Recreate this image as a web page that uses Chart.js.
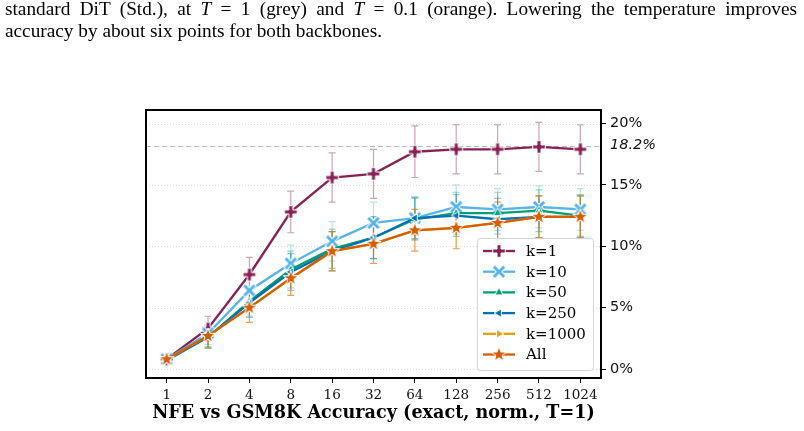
<!DOCTYPE html>
<html lang="en">
<head>
<meta charset="UTF-8" />
<title>NFE vs GSM8K Accuracy</title>
<script src="https://cdn.jsdelivr.net/npm/chart.js"></script>
<style>
  body { margin: 0; background: #fff; }
  #wrap { position: relative; width: 804px; height: 431px; overflow: hidden; }
  .cap { position: absolute; left: 5px; width: 792px; font-family: "Liberation Serif", serif;
         font-size: 19.3px; line-height: 22px; color: #000; white-space: nowrap; }
  #cap1 { top: -2px; text-align: justify; text-align-last: justify; white-space: normal; }
  #cap2 { top: 20px; }
  #grafico { position: absolute; left: 0; top: 0; }
</style>
</head>
<body>
<div id="wrap">
  <canvas id="grafico" width="804" height="431"></canvas>
  <div class="cap" id="cap1">standard DiT (Std.), at <i>T</i> = 1 (grey) and <i>T</i> = 0.1 (orange). Lowering the temperature improves</div>
  <div class="cap" id="cap2">accuracy by about six points for both backbones.</div>
</div>

<script>
    // dados (acurácia em %)
    const nfe = ['1', '2', '4', '8', '16', '32', '64', '128', '256', '512', '1024'];
    const nomes = ['k=1', 'k=10', 'k=50', 'k=250', 'k=1000', 'All'];

    const k1    = [0.8, 3.3, 7.7, 12.8, 15.6, 15.9, 17.7, 17.9, 17.9, 18.1, 17.9];
    const k10   = [0.8, 2.9, 6.4, 8.6, 10.4, 11.9, 12.3, 13.2, 13.0, 13.2, 13.0];
    const k50   = [0.8, 2.6, 5.5, 8.1, 9.8, 10.7, 12.2, 12.7, 12.7, 12.9, 12.5];
    const k250  = [0.7, 2.6, 5.4, 7.9, 9.6, 10.7, 12.3, 12.5, 12.2, 12.4, 12.4];
    const k1000 = [0.8, 2.7, 5.0, 7.4, 9.6, 10.2, 11.3, 11.5, 11.9, 12.4, 12.4];
    const all   = [0.8, 2.7, 5.0, 7.4, 9.6, 10.2, 11.3, 11.5, 11.9, 12.4, 12.4];

    // barras de erro (± em pontos percentuais)
    const errK1    = [0.3, 1.0, 1.4, 1.7, 2.0, 2.0, 2.1, 2.0, 2.0, 2.0, 2.0];
    const errK10   = [0.3, 0.9, 1.2, 1.5, 1.6, 1.7, 1.7, 1.8, 1.7, 1.7, 1.7];
    const errK50   = [0.3, 0.9, 1.2, 1.5, 1.6, 1.7, 1.7, 1.7, 1.7, 1.7, 1.7];
    const errK250  = [0.3, 0.9, 1.2, 1.5, 1.6, 1.7, 1.7, 1.7, 1.7, 1.7, 1.7];
    const errK1000 = [0.3, 0.9, 1.2, 1.4, 1.6, 1.6, 1.7, 1.7, 1.7, 1.7, 1.7];
    const errAll   = [0.3, 0.9, 1.2, 1.4, 1.6, 1.6, 1.7, 1.7, 1.7, 1.7, 1.7];

    const yTicks = [0, 5, 10, 15, 20];
    const refLine = 18.2;

    const cores = ['#882255', '#56B4E9', '#009E73', '#0072B2', '#E69F00', '#D55E00'];
    const tipos = ['plus', 'x', 'up', 'left', 'right', 'star'];
    const series = [k1, k10, k50, k250, k1000, all];
    const erros = [errK1, errK10, errK50, errK250, errK1000, errAll];

    function rgba(hex, a) {
        const n = parseInt(hex.slice(1), 16);
        return `rgba(${n >> 16},${(n >> 8) & 255},${n & 255},${a})`;
    }

    // marcadores estilo matplotlib (preenchidos, borda branca)
    function marcador(tipo, cor) {
        const c = document.createElement('canvas');
        c.width = 20; c.height = 20;
        const g = c.getContext('2d');
        g.translate(10, 10);
        let pts = [];
        if (tipo === 'plus' || tipo === 'x') {
            const r = tipo === 'plus' ? 6.3 : 7.8, w = 2.0;
            pts = [[-w,-r],[w,-r],[w,-w],[r,-w],[r,w],[w,w],[w,r],[-w,r],[-w,w],[-r,w],[-r,-w],[-w,-w]];
            if (tipo === 'x') g.rotate(Math.PI / 4);
        } else if (tipo === 'star') {
            for (let i = 0; i < 10; i++) {
                const r = i % 2 === 0 ? 8 : 3.2;
                const a = -Math.PI / 2 + i * Math.PI / 5;
                pts.push([r * Math.cos(a), r * Math.sin(a)]);
            }
        } else {
            const r = 4.8;
            pts = [[0, -r], [r * 0.866, r * 0.5], [-r * 0.866, r * 0.5]];
            if (tipo === 'left') g.rotate(-Math.PI / 2);
            if (tipo === 'right') g.rotate(Math.PI / 2);
        }
        g.beginPath();
        pts.forEach((p, i) => i ? g.lineTo(p[0], p[1]) : g.moveTo(p[0], p[1]));
        g.closePath();
        g.fillStyle = cor;
        g.fill();
        g.strokeStyle = '#fff';
        g.lineWidth = 1;
        g.stroke();
        return c;
    }

    const datasets = nomes.map((nome, i) => ({
        label: nome,
        data: series[i],
        erro: erros[i],
        borderColor: cores[i],
        backgroundColor: cores[i],
        borderWidth: 2.3,
        pointStyle: marcador(tipos[i], cores[i]),
        pointRadius: 5,
        tension: 0,
        fill: false,
        order: nomes.length - 1 - i
    }));

    const fundo = {
        id: 'fundo',
        beforeDatasetsDraw(chart) {
            const { ctx, chartArea: a, scales: { x, y } } = chart;
            ctx.save();
            ctx.lineWidth = 0.8;
            ctx.strokeStyle = '#cfcfcf';
            ctx.setLineDash([1, 2]);
            yTicks.forEach(v => {
                const py = Math.round(y.getPixelForValue(v)) + 0.5;
                ctx.beginPath(); ctx.moveTo(a.left, py); ctx.lineTo(a.right, py); ctx.stroke();
            });
            ctx.strokeStyle = '#b8b8b8';
            ctx.lineWidth = 1;
            ctx.setLineDash([5, 3]);
            const pr = Math.round(y.getPixelForValue(refLine)) + 0.5;
            ctx.beginPath(); ctx.moveTo(a.left, pr); ctx.lineTo(a.right, pr); ctx.stroke();
            ctx.setLineDash([]);

            // barras de erro
            chart.data.datasets.forEach((ds, i) => {
                ctx.strokeStyle = rgba(ds.borderColor, 0.42);
                ctx.lineWidth = 1.2;
                ds.data.forEach((v, j) => {
                    const px = x.getPixelForValue(j);
                    const y1 = y.getPixelForValue(v - ds.erro[j]);
                    const y2 = y.getPixelForValue(v + ds.erro[j]);
                    ctx.beginPath();
                    ctx.moveTo(px, y1); ctx.lineTo(px, y2);
                    ctx.moveTo(px - 3.5, y1); ctx.lineTo(px + 3.5, y1);
                    ctx.moveTo(px - 3.5, y2); ctx.lineTo(px + 3.5, y2);
                    ctx.stroke();
                });
            });
            ctx.restore();
        },
        afterDatasetsDraw(chart) {
            const { ctx, chartArea: a } = chart;
            ctx.save();
            ctx.strokeStyle = '#000';
            ctx.lineWidth = 2;
            ctx.strokeRect(a.left, a.top, a.right - a.left, a.bottom - a.top);
            ctx.restore();
        },
        afterDraw(chart) {
            // legenda dentro do gráfico, canto inferior direito
            const { ctx } = chart;
            const bx = 477, by = 238, bw = 116, bh = 132, row = 20.7;
            ctx.save();
            ctx.fillStyle = 'rgba(255,255,255,0.85)';
            ctx.strokeStyle = '#d6d6d6';
            ctx.lineWidth = 1;
            ctx.beginPath();
            ctx.roundRect(bx + 0.5, by + 0.5, bw, bh, 3);
            ctx.fill(); ctx.stroke();
            ctx.font = '15px "DejaVu Serif"';
            ctx.textBaseline = 'middle';
            chart.data.datasets.forEach((ds, i) => {
                const cy = by + 13 + i * row;
                ctx.strokeStyle = ds.borderColor;
                ctx.lineWidth = 2.3;
                ctx.beginPath(); ctx.moveTo(bx + 6, cy); ctx.lineTo(bx + 38, cy); ctx.stroke();
                const m = ds.pointStyle;
                ctx.drawImage(m, bx + 22 - m.width / 2, cy - m.height / 2);
                ctx.fillStyle = '#000';
                ctx.fillText(ds.label, bx + 49, cy + 1);
            });
            ctx.restore();
        }
    };

    new Chart(document.getElementById('grafico'), {
        type: 'line',
        data: { labels: nfe, datasets: datasets },
        plugins: [fundo],
        options: {
            responsive: false,
            animation: false,
            devicePixelRatio: 1,
            layout: { padding: { left: 146, top: 110, right: 143, bottom: 6 } },
            plugins: { legend: { display: false }, tooltip: { enabled: false } },
            scales: {
                x: {
                    type: 'category',
                    offset: true,
                    afterFit: s => { s.height = 47; },
                    grid: { offset: false, drawOnChartArea: false, drawTicks: true, tickLength: 5, tickColor: '#000' },
                    border: { display: false },
                    ticks: { color: '#111', padding: 4, maxRotation: 0, autoSkip: false,
                             font: { family: 'DejaVu Serif', size: 13.5 } },
                    title: { display: true, text: 'NFE vs GSM8K Accuracy (exact, norm., T=1)', color: '#000',
                             padding: { top: 0, bottom: 1 },
                             font: { family: 'DejaVu Serif', size: 17.6, weight: 'bold' } }
                },
                y: {
                    position: 'right',
                    min: -0.73,
                    max: 21.1,
                    afterFit: s => { s.width = 60; },
                    afterBuildTicks: s => {
                        s.ticks = yTicks.concat([refLine]).sort((p, q) => p - q).map(v => ({ value: v }));
                    },
                    grid: { drawOnChartArea: false, tickLength: 5,
                            tickColor: c => c.tick && c.tick.value === refLine ? 'rgba(0,0,0,0)' : '#000' },
                    border: { display: false },
                    ticks: {
                        color: '#111', padding: 4,
                        callback: v => (v === refLine ? v.toFixed(1) : v) + '%',
                        font: c => ({ family: 'DejaVu Sans', size: 14.5,
                                      style: c.tick && c.tick.value === refLine ? 'italic' : 'normal' })
                    }
                }
            }
        }
    });
</script>
</body>
</html>
